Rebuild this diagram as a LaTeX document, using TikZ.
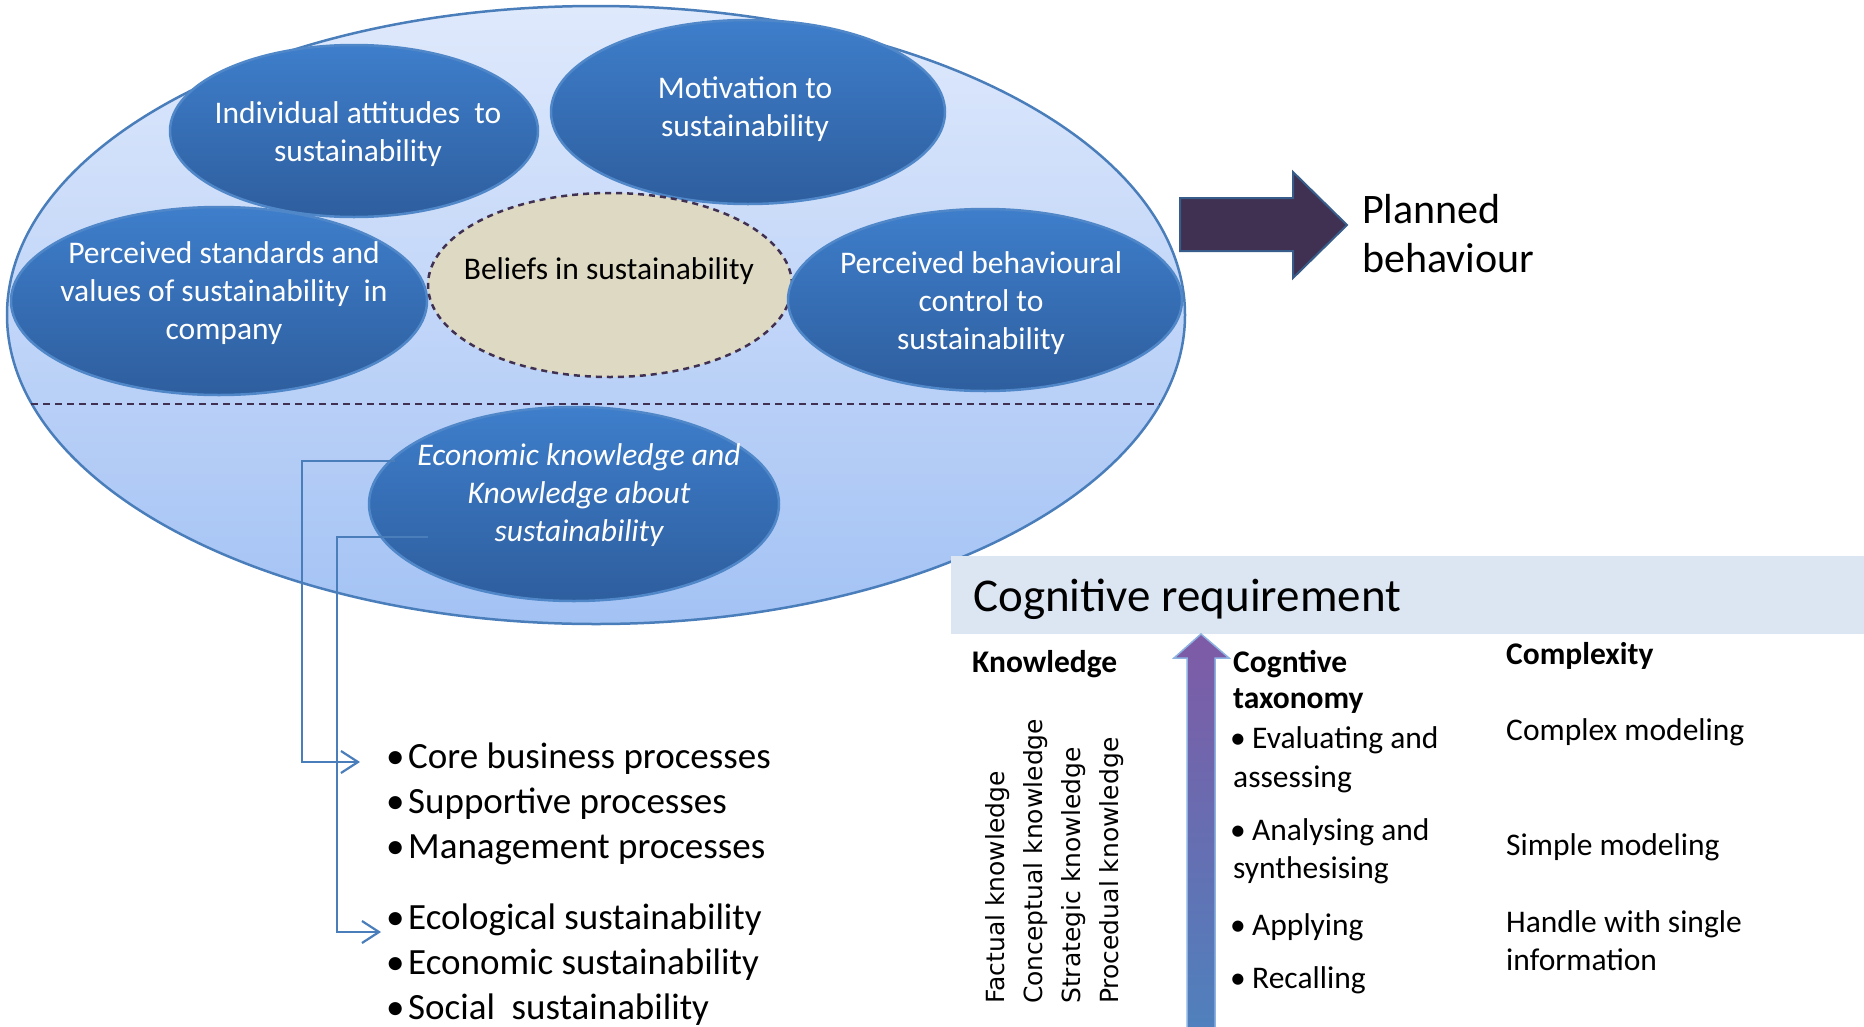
\documentclass[tikz,border=0pt]{standalone}
\usepackage{fontspec}
\setmainfont{Carlito}
\newfontfamily\vfont{DejaVu Sans}
\usetikzlibrary{shapes.geometric,arrows.meta}
\definecolor{bigtop}{HTML}{DFE9FC}
\definecolor{bigbot}{HTML}{A3C2F4}
\definecolor{bigbord}{HTML}{4A7EBB}
\definecolor{btop}{HTML}{3E7ECB}
\definecolor{bbot}{HTML}{2E5E9E}
\definecolor{bbord}{HTML}{4F87C8}
\definecolor{belief}{HTML}{DDD9C3}
\definecolor{dkpurp}{HTML}{403152}
\definecolor{arrbord}{HTML}{385D8A}
\definecolor{lineblue}{HTML}{4A7EBB}
\definecolor{band}{HTML}{DCE6F2}
\definecolor{gtop}{HTML}{7F5AA6}
\definecolor{gbot}{HTML}{4F81BD}
\definecolor{gbord}{HTML}{8DB3E2}
\newcommand\blt{\makebox[19pt][l]{\hspace{-3pt}•}}
\begin{document}
\begin{tikzpicture}[x=1pt,y=-1pt,
  bigell/.style={ellipse, draw=bigbord, line width=2.5pt, top color=bigtop, bottom color=bigbot, inner sep=0pt},
  blob/.style={ellipse, draw=bbord, line width=2.5pt, top color=btop, bottom color=bbot, inner sep=0pt},
  etxt/.style={text=white, align=center, inner sep=0pt, font=\fontsize{31.5}{38}\selectfont},
  dline/.style={draw=dkpurp, line width=2.5pt, dash pattern=on 7pt off 5pt},
  conn/.style={draw=lineblue, line width=2.2pt, -{Straight Barb[length=17pt,width=22pt]}},
  body/.style={inner sep=0pt, align=left, anchor=base west, font=\fontsize{31.5}{39}\selectfont},
  hdr/.style={inner sep=0pt, align=left, anchor=base west, font=\bfseries\fontsize{31.5}{36}\selectfont},
  lst/.style={inner sep=0pt, align=left, anchor=base west, font=\fontsize{37}{45}\selectfont},
  vtxt/.style={inner sep=0pt, rotate=90, anchor=base west, font=\vfont\fontsize{25}{30}\selectfont}
]
\useasboundingbox (0,0) rectangle (1864,1026);

% big ellipse
\node[bigell, minimum width=1178pt, minimum height=618pt] (big) at (596,315) {};
\coordinate (dl) at (31,404);
\coordinate (dr) at (1160,404);
\draw[dline] (dl) -- (dr);

% inner ellipses
\node[blob, minimum width=368pt, minimum height=172pt] (ind) at (354,131) {};
\node[blob, minimum width=394pt, minimum height=184pt] (mot) at (748,112) {};
\node[blob, minimum width=416pt, minimum height=188pt] (std) at (219,301) {};
\node[ellipse, fill=belief, draw=dkpurp, line width=2.5pt, dash pattern=on 6pt off 5pt, minimum width=364pt, minimum height=184pt, inner sep=0pt] (bel) at (610,285) {};
\node[blob, minimum width=394pt, minimum height=182pt] (beh) at (985,300) {};
\node[blob, minimum width=410pt, minimum height=194pt] (eco) at (574,504) {};

\node[etxt] (tind) at (358,134) {Individual attitudes\ \ to\\sustainability};
\node[etxt] (tmot) at (745,109) {Motivation to\\sustainability};
\node[etxt] (tstd) at (224,293) {Perceived standards and\\values of sustainability\ \ in\\company};
\node[etxt, text=black] (tbel) at (609,271) {Beliefs in sustainability};
\node[etxt] (tbeh) at (981,303) {Perceived behavioural\\control to\\sustainability};
\node[etxt, font=\itshape\fontsize{31.5}{38}\selectfont] (teco) at (579,495) {Economic knowledge and\\Knowledge about\\sustainability};

% planned behaviour arrow
\filldraw[fill=dkpurp, draw=arrbord, line width=2pt]
  (1180,198) -- (1293,198) -- (1293,172) -- (1347,225) -- (1293,278) -- (1293,251) -- (1180,251) -- cycle;
\node[inner sep=0pt, align=left, anchor=base west, font=\fontsize{42}{49}\selectfont] (plan) at (1362,272) {Planned\\behaviour};

% bullet lists
\node[lst] (l1) at (389,858) {\blt Core business processes\\\blt Supportive processes\\\blt Management processes};
\node[lst] (l2) at (389,1019) {\blt Ecological sustainability\\\blt Economic sustainability\\\blt Social\ \ sustainability};

% connectors
\coordinate (s1) at (395,461);
\coordinate (s2) at (428,537);
\coordinate (a1) at (360,762);
\coordinate (a2) at (381,932);
\draw[conn] (s1) -- (302,461) |- (a1);
\draw[conn] (s2) -- (337,537) |- (a2);

% cognitive requirement
\node[fill=band, inner sep=0pt, minimum width=913pt, minimum height=78pt, anchor=north west] (bandbox) at (951,556) {};
\node[inner sep=0pt, anchor=base west, font=\fontsize{47}{56}\selectfont] (cogreq) at (973,611) {Cognitive requirement};

\shade[top color=gtop, bottom color=gbot, draw=gbord, line width=1.5pt]
  (1187,1030) -- (1187,658) -- (1174,658) -- (1201,634) -- (1229,658) -- (1215,658) -- (1215,1030) -- cycle;

\node[hdr] (hk) at (972,672) {Knowledge};
\node[hdr] (hc) at (1233,708) {Cogntive\\taxonomy};
\node[hdr] (hx) at (1506,664) {Complexity};

\node[vtxt] (v1) at (1004,1004) {Factual knowledge};
\node[vtxt] (v2) at (1042,1004) {Conceptual knowledge};
\node[vtxt] (v3) at (1080,1004) {Strategic knowledge};
\node[vtxt] (v4) at (1118,1004) {Procedual knowledge};

\node[body] (c1) at (1233,787) {\blt Evaluating and\\assessing};
\node[body, font=\fontsize{31.5}{38}\selectfont] (c2) at (1233,878) {\blt Analysing and\\synthesising};
\node[body] (c3) at (1233,935) {\blt Applying};
\node[body] (c4) at (1233,988) {\blt Recalling};

\node[body] (x1) at (1506,740) {Complex modeling};
\node[body] (x2) at (1506,855) {Simple modeling};
\node[body, font=\fontsize{31.5}{38}\selectfont] (x3) at (1506,970) {Handle with single\\information};
\end{tikzpicture}
\end{document}
